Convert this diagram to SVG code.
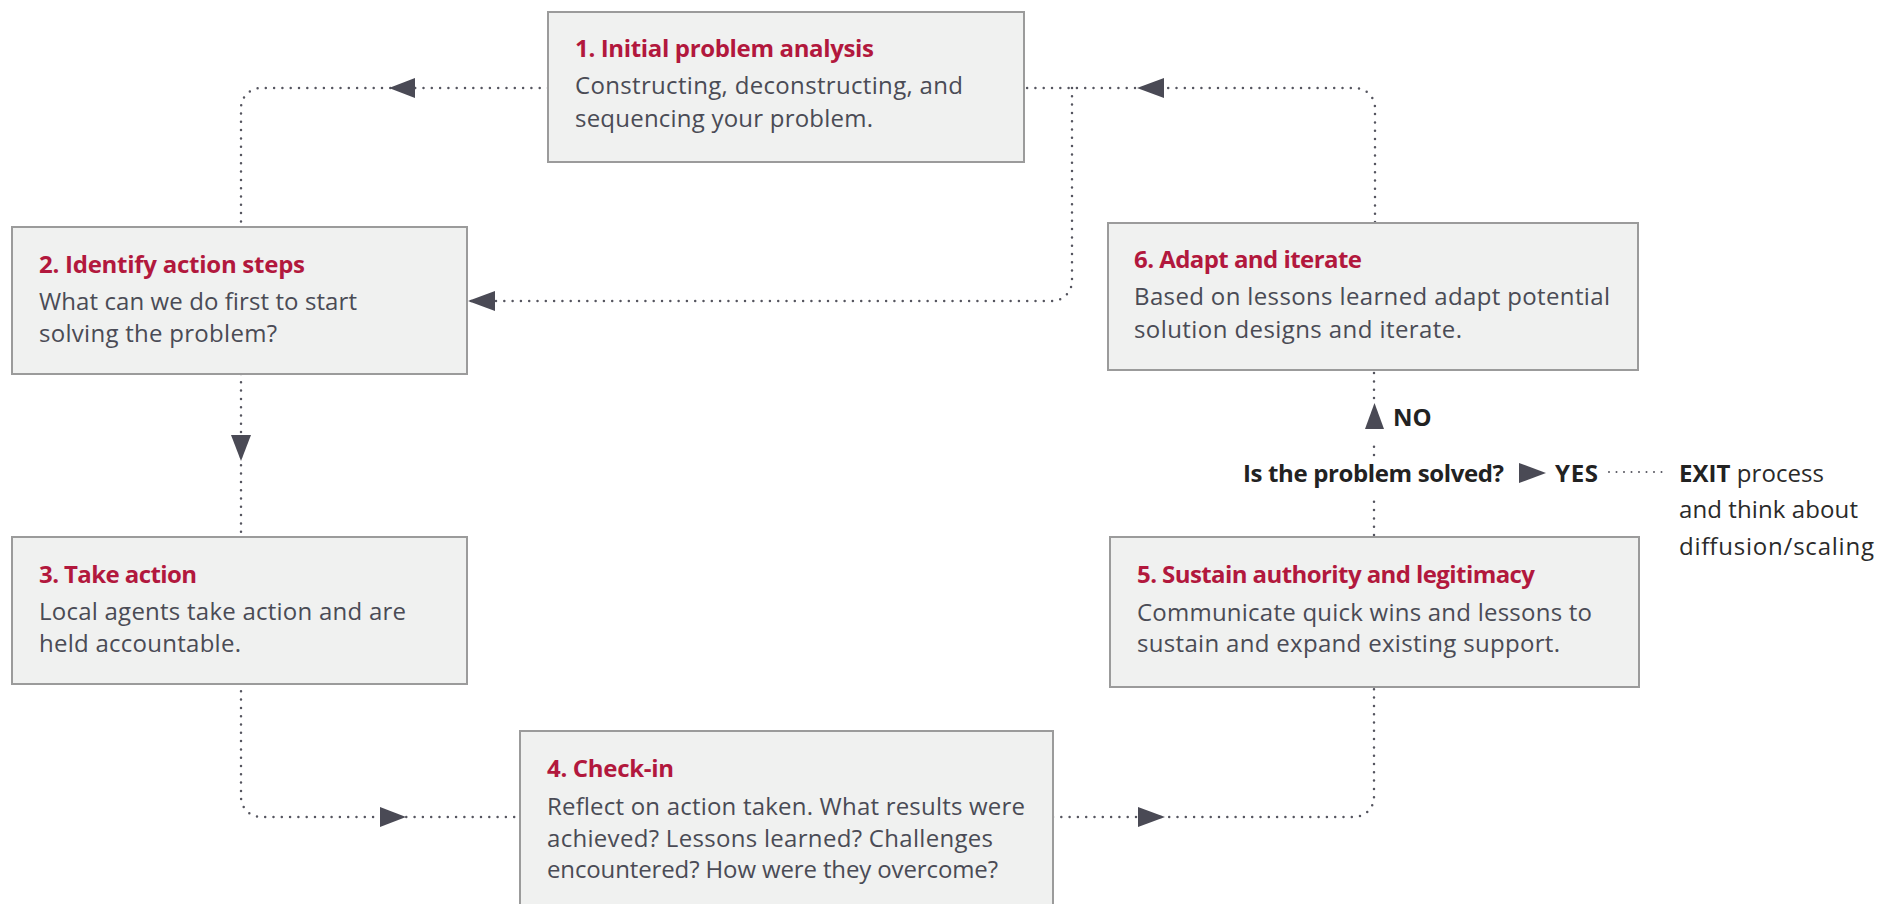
<svg xmlns="http://www.w3.org/2000/svg" width="1893" height="904" viewBox="0 0 1893 904">
<style>
.box{fill:#f0f1f0;stroke:#9b9b9b;stroke-width:2}
.t{font-family:"Open Sans","Noto Sans",sans-serif;font-size:24px;font-weight:700;fill:#b2183d}
.b{font-family:"Open Sans","Noto Sans",sans-serif;font-size:24px;fill:#4a4b55}
.lbl{font-family:"Open Sans","Noto Sans",sans-serif;font-size:24px;font-weight:700;fill:#222}
.reg{font-family:"Open Sans","Noto Sans",sans-serif;font-size:24px;fill:#2a2a2a}
.dot{fill:none;stroke:#55555f;stroke-width:2.5;stroke-linecap:round;stroke-dasharray:0 8.3}
.dot2{fill:none;stroke:#55555f;stroke-width:2;stroke-linecap:round;stroke-dasharray:0 7.5}
.ah{fill:#4a4a55}
</style>
<rect width="1893" height="904" fill="#ffffff"/>
<g id="connectors">
  <path class="dot" d="M548 88 H261 A20 20 0 0 0 241 108 V225"/>
  <path class="dot" d="M1375 222 V108 A20 20 0 0 0 1355 88 H1024"/>
  <path class="dot" d="M1072 88 V281 A20 20 0 0 1 1052 301 H468"/>
  <path class="dot" d="M241 374 V537"/>
  <path class="dot" d="M241 683 V797 A20 20 0 0 0 261 817 H521"/>
  <path class="dot" d="M1053 817 H1354 A20 20 0 0 0 1374 797 V687"/>
  <path class="dot" d="M1374 535 V495"/>
  <path class="dot" d="M1374 455 V443"/>
  <path class="dot" d="M1374 398 V372"/>
  <path class="dot2" d="M1609 472 H1669"/>
  <polygon class="ah" points="389,88 415,78 415,98"/>
  <polygon class="ah" points="1137,88 1164,78 1164,98"/>
  <polygon class="ah" points="468,301 495,291 495,311"/>
  <polygon class="ah" points="241,461 231,435 251,435"/>
  <polygon class="ah" points="406,817 380,807 380,827"/>
  <polygon class="ah" points="1165,817 1138,807 1138,827"/>
  <polygon class="ah" points="1374.5,403 1365,429 1384,429"/>
  <polygon class="ah" points="1546,473 1519,463 1519,483"/>
</g>
<g id="node1">
  <rect class="box" x="548" y="12" width="476" height="150"/>
  <text class="t" x="575" y="57" textLength="299">1. Initial problem analysis</text>
  <text class="b" x="575" y="94" textLength="388">Constructing, deconstructing, and</text>
  <text class="b" x="575" y="127" textLength="298">sequencing your problem.</text>
</g>
<g id="node2">
  <rect class="box" x="12" y="227" width="455" height="147"/>
  <text class="t" x="39" y="273" textLength="266">2. Identify action steps</text>
  <text class="b" x="39" y="310" textLength="318">What can we do first to start</text>
  <text class="b" x="39" y="342" textLength="238">solving the problem?</text>
</g>
<g id="node3">
  <rect class="box" x="12" y="537" width="455" height="147"/>
  <text class="t" x="39" y="583" textLength="158">3. Take action</text>
  <text class="b" x="39" y="620" textLength="367">Local agents take action and are</text>
  <text class="b" x="39" y="652" textLength="202">held accountable.</text>
</g>
<g id="node4">
  <rect class="box" x="520" y="731" width="533" height="176"/>
  <text class="t" x="547" y="777" textLength="127">4. Check-in</text>
  <text class="b" x="547" y="815" textLength="478">Reflect on action taken. What results were</text>
  <text class="b" x="547" y="847" textLength="446">achieved? Lessons learned? Challenges</text>
  <text class="b" x="547" y="878" textLength="451">encountered? How were they overcome?</text>
</g>
<g id="node5">
  <rect class="box" x="1110" y="537" width="529" height="150"/>
  <text class="t" x="1137" y="583" textLength="398">5. Sustain authority and legitimacy</text>
  <text class="b" x="1137" y="621" textLength="455">Communicate quick wins and lessons to</text>
  <text class="b" x="1137" y="652" textLength="423">sustain and expand existing support.</text>
</g>
<g id="node6">
  <rect class="box" x="1108" y="223" width="530" height="147"/>
  <text class="t" x="1134" y="268" textLength="228">6. Adapt and iterate</text>
  <text class="b" x="1134" y="305" textLength="476">Based on lessons learned adapt potential</text>
  <text class="b" x="1134" y="338" textLength="328">solution designs and iterate.</text>
</g>
<g id="decision">
  <text class="lbl" x="1393" y="426">NO</text>
  <text class="lbl" x="1243" y="482" textLength="261">Is the problem solved?</text>
  <text class="lbl" x="1555" y="482" textLength="43">YES</text>
  <text class="reg" x="1679" y="482" textLength="145"><tspan font-weight="700" fill="#222">EXIT</tspan> process</text>
  <text class="reg" x="1679" y="518" textLength="179">and think about</text>
  <text class="reg" x="1679" y="555" textLength="195">diffusion/scaling</text>
</g>
</svg>
